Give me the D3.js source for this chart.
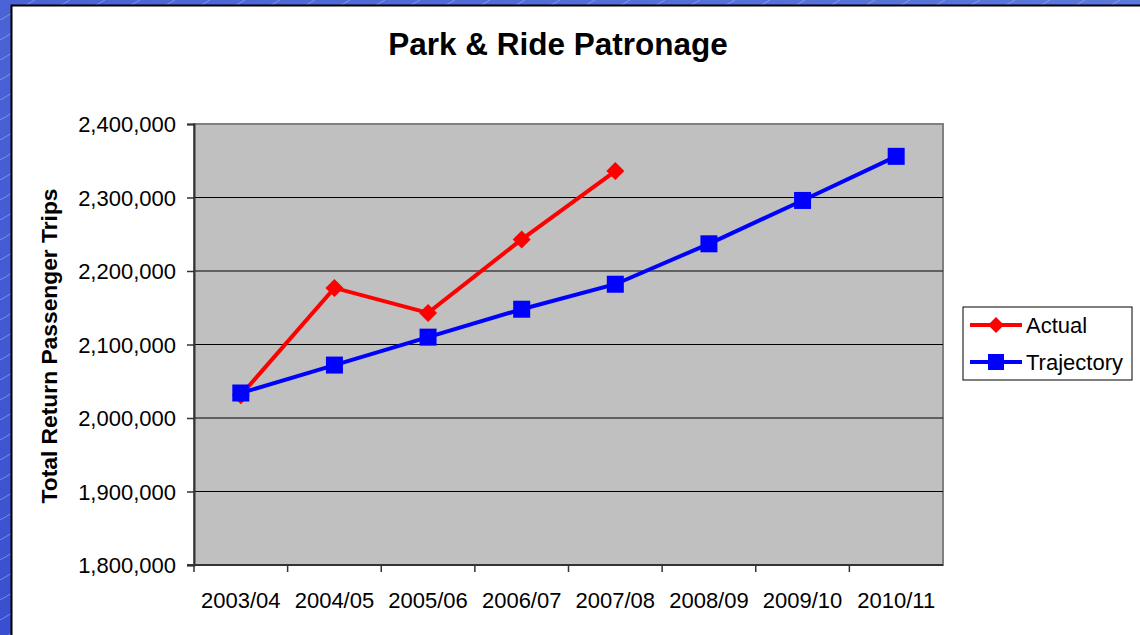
<!DOCTYPE html>
<html>
<head>
<meta charset="utf-8">
<script src="https://cdn.jsdelivr.net/npm/d3@7"></script>
<style>
  body { margin: 0; background: #3b52d2; }
  text { font-family: "Liberation Sans", Arial, sans-serif; fill: #000; }
</style>
</head>
<body>
<svg id="chart" width="1140" height="635"></svg>
<script>
// data
var years = ["2003/04", "2004/05", "2005/06", "2006/07", "2007/08", "2008/09", "2009/10", "2010/11"];
var actual = [2031000, 2177000, 2143000, 2243000, 2336000];
var trajectory = [2034000, 2072000, 2110000, 2148000, 2182000, 2237000, 2296000, 2356000];
var yTicks = [1800000, 1900000, 2000000, 2100000, 2200000, 2300000, 2400000];

var svg = d3.select("#chart");

// slide background with faint diagonal lines
var defs = svg.append("defs");
var grad = defs.append("linearGradient").attr("id", "bg")
  .attr("x1", 0).attr("y1", 1).attr("x2", 1).attr("y2", 0);
grad.append("stop").attr("offset", "0%").attr("stop-color", "#3a4fcf");
grad.append("stop").attr("offset", "100%").attr("stop-color", "#5a78de");
svg.append("rect").attr("width", 1140).attr("height", 635).attr("fill", "url(#bg)");

var pat = defs.append("pattern").attr("id", "diag")
  .attr("patternUnits", "userSpaceOnUse").attr("width", 35).attr("height", 20);
pat.append("line").attr("x1", 0).attr("y1", 20).attr("x2", 35).attr("y2", 0)
  .attr("stroke", "#a8b8f4").attr("stroke-width", 0.8).attr("opacity", 0.7);
svg.append("rect").attr("width", 1140).attr("height", 635).attr("fill", "url(#diag)");

// white chart panel
svg.append("rect").attr("x", 11.5).attr("y", 5.5).attr("width", 1140).attr("height", 640)
  .attr("fill", "#fff").attr("stroke", "#000").attr("stroke-width", 2);

var margin = {top: 124, left: 194};
var width = 943 - 194, height = 565 - 124;

var g = svg.append("g").attr("transform", "translate(" + margin.left + "," + margin.top + ")");

var x = d3.scaleBand().domain(years).range([0, width]);
var y = d3.scaleLinear().domain([1800000, 2400000]).range([height, 0]);

// plot area
g.append("rect").attr("width", width).attr("height", height)
  .attr("fill", "#c0c0c0").attr("stroke", "#808080").attr("stroke-width", 2);

// gridlines
g.selectAll(".grid").data(yTicks.slice(1, -1)).enter().append("line")
  .attr("x1", 0).attr("x2", width)
  .attr("y1", function(d) { return y(d); }).attr("y2", function(d) { return y(d); })
  .attr("stroke", "#000").attr("stroke-width", 1);

// y axis
var yAxis = g.append("g")
  .call(d3.axisLeft(y).tickValues(yTicks).tickFormat(d3.format(",")).tickSize(7).tickPadding(11));
yAxis.select(".domain").attr("stroke", "#333").attr("stroke-width", 2);
yAxis.selectAll(".tick line").attr("stroke", "#333").attr("stroke-width", 1.5);
yAxis.selectAll("text").style("font-size", "22px").attr("dy", "0.36em");

// x axis: ticks at category boundaries
var xAxis = g.append("g").attr("transform", "translate(0," + height + ")");
xAxis.append("line").attr("x1", -7).attr("x2", width).attr("stroke", "#333").attr("stroke-width", 2);
xAxis.selectAll(".xt").data(years).enter().append("line")
  .attr("x1", function(d) { return x(d); }).attr("x2", function(d) { return x(d); })
  .attr("y1", 0).attr("y2", 7).attr("stroke", "#333").attr("stroke-width", 1.5);
xAxis.selectAll(".xl").data(years).enter().append("text")
  .attr("x", function(d) { return x(d) + x.bandwidth() / 2; })
  .attr("y", 43)
  .attr("text-anchor", "middle")
  .style("font-size", "22px")
  .text(function(d) { return d; });

// lines
var line = d3.line()
  .x(function(d, i) { return x(years[i]) + x.bandwidth() / 2; })
  .y(function(d) { return y(d); });

g.append("path").datum(actual).attr("d", line)
  .attr("fill", "none").attr("stroke", "#ff0000").attr("stroke-width", 4);
g.append("path").datum(trajectory).attr("d", line)
  .attr("fill", "none").attr("stroke", "#0000ff").attr("stroke-width", 4);

g.selectAll(".act").data(actual).enter().append("path")
  .attr("d", "M0,-9L9,0L0,9L-9,0Z")
  .attr("transform", function(d, i) { return "translate(" + (x(years[i]) + x.bandwidth() / 2) + "," + y(d) + ")"; })
  .attr("fill", "#ff0000");

g.selectAll(".traj").data(trajectory).enter().append("rect")
  .attr("x", function(d, i) { return x(years[i]) + x.bandwidth() / 2 - 8.5; })
  .attr("y", function(d) { return y(d) - 8.5; })
  .attr("width", 17).attr("height", 17)
  .attr("fill", "#0000ff");

// title
svg.append("text").attr("x", 558).attr("y", 55).attr("text-anchor", "middle")
  .style("font-size", "31.5px").style("font-weight", "bold")
  .text("Park & Ride Patronage");

svg.append("text")
  .attr("transform", "translate(57,346) rotate(-90)")
  .attr("text-anchor", "middle")
  .style("font-size", "22.8px").style("font-weight", "bold")
  .text("Total Return Passenger Trips");

// legend
var leg = svg.append("g").attr("transform", "translate(963,307)");
leg.append("rect").attr("width", 169).attr("height", 73)
  .attr("fill", "#fff").attr("stroke", "#000").attr("stroke-width", 1);
var items = [{name: "Actual", color: "#ff0000"}, {name: "Trajectory", color: "#0000ff"}];
items.forEach(function(it, i) {
  var yy = 18 + i * 37;
  leg.append("line").attr("x1", 7).attr("x2", 59).attr("y1", yy).attr("y2", yy)
    .attr("stroke", it.color).attr("stroke-width", 4);
  if (i === 0) {
    leg.append("path").attr("d", "M0,-8L8,0L0,8L-8,0Z")
      .attr("transform", "translate(33," + yy + ")").attr("fill", it.color);
  } else {
    leg.append("rect").attr("x", 25).attr("y", yy - 8).attr("width", 16).attr("height", 16)
      .attr("fill", it.color);
  }
  leg.append("text").attr("x", 63).attr("y", yy + 8).style("font-size", "22px").text(it.name);
});
</script>
</body>
</html>
